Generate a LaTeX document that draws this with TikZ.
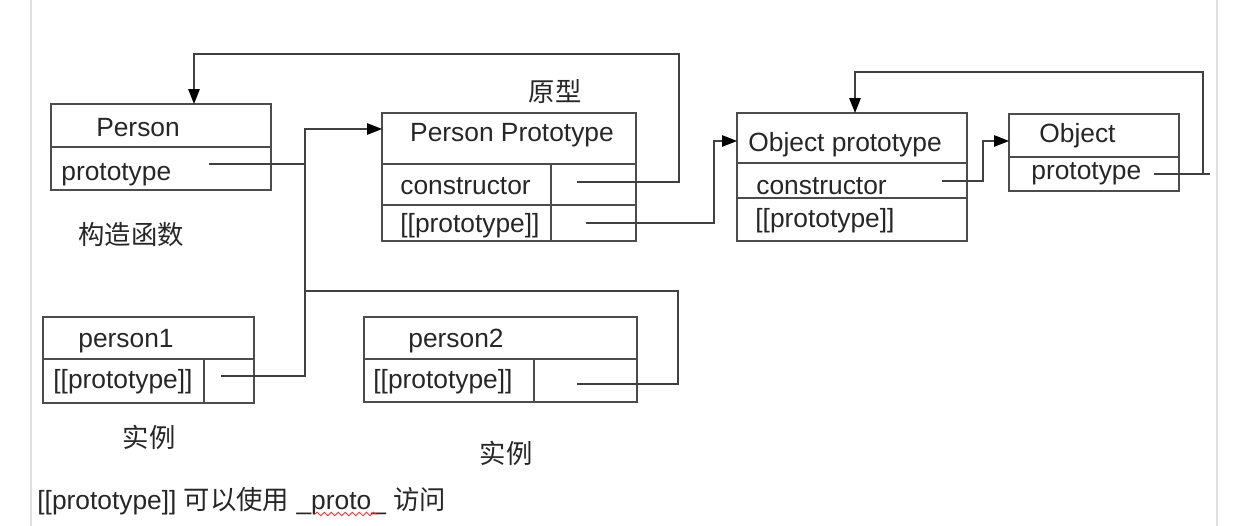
\documentclass[tikz,border=0pt]{standalone}
\usepackage{fontspec}
\setmainfont{Liberation Sans}
\newfontfamily\cjk{Noto Sans CJK SC}
\usepackage{tikz}
\usetikzlibrary{arrows.meta, decorations.pathmorphing}
\tikzset{%
	class box/.style={
		rectangle,
		draw=black!70,
		line width=1pt,
		inner sep=0pt,
		outer sep=0pt,
		anchor=north west
	},
	row line/.style={
		draw=black!70,
		line width=1pt
	},
	title/.style={
		inner sep=0pt,
		text=black!85
	},
	field/.style={
		title,
		anchor=west
	},
	wire/.style={
		draw=black!75,
		line width=0.8pt
	},
	link/.style={
		wire,
		-{Triangle[length=8.5pt,width=6.5pt,color=black]}
	},
}

\begin{document}
\begin{tikzpicture}[x=0.02cm, y=-0.02cm, font=\fontsize{15}{18}\selectfont]
			\useasboundingbox (0,0) rectangle (1233,526);
			% Draw the page edges
			\draw[black!12, line width=1.2pt] (31,0) -- (31,526);
			\draw[black!12, line width=1.2pt] (1217,0) -- (1217,526);
			
			% Draw the Person box
			\node[class box, minimum width=4.4cm, minimum height=1.72cm] (person) at (51,104) {};
			\draw[row line] (person.west |- 0,147) -- (person.east |- 0,147);
			\node[title] (personName) at (138,128) {Person};
			\node[field] (personProto) at (61,175) {prototype};
			\coordinate (personProtoEnd) at (209,164);
			\node[title] (ctorLabel) at (131,235) {\cjk 构造函数};
			
			% Draw the Person Prototype box
			\node[class box, minimum width=5.08cm, minimum height=2.56cm] (pp) at (382,113) {};
			\draw[row line] (pp.west |- 0,164) -- (pp.east |- 0,164);
			\draw[row line] (pp.west |- 0,205) -- (pp.east |- 0,205);
			\draw[row line] (551,164) -- (pp.south -| 551,0);
			\node[title] (ppName) at (512,135) {Person Prototype};
			\node[field] (ppCtor) at (400,186) {constructor};
			\node[field] (ppProto) at (400,226) {[[prototype]]};
			\coordinate (ppCtorEnd) at (577,182);
			\coordinate (ppProtoEnd) at (586,223);
			\node[title] (ppLabel) at (555,92) {\cjk 原型};
			
			% Draw the Object prototype box
			\node[class box, minimum width=4.6cm, minimum height=2.56cm] (op) at (737,113) {};
			\draw[row line] (op.west |- 0,163) -- (op.east |- 0,163);
			\draw[row line] (op.west |- 0,198) -- (op.east |- 0,198);
			\node[field] (opName) at (748,145) {Object prototype};
			\node[field] (opCtor) at (756,186) {constructor};
			\node[field] (opProto) at (755,221) {[[prototype]]};
			\coordinate (opCtorEnd) at (942,181);
			
			% Draw the Object box
			\node[class box, minimum width=3.4cm, minimum height=1.54cm] (obj) at (1009,114) {};
			\draw[row line] (obj.west |- 0,157) -- (obj.east |- 0,157);
			\node[field] (objName) at (1039,136) {Object};
			\node[field] (objProto) at (1031,174) {prototype};
			\coordinate (objProtoEnd) at (1154,174);
			\coordinate (objTurn) at (1203,174);
			
			% Draw the instances
			\node[class box, minimum width=4.22cm, minimum height=1.72cm] (p1) at (43,317) {};
			\draw[row line] (p1.west |- 0,359) -- (p1.east |- 0,359);
			\draw[row line] (204,359) -- (p1.south -| 204,0);
			\node[title] (p1Name) at (126,341) {person1};
			\node[field] (p1Proto) at (53,382) {[[prototype]]};
			\coordinate (p1End) at (221,376);
			\node[title] (p1Label) at (149,437) {\cjk 实例};
			
			\node[class box, minimum width=5.46cm, minimum height=1.7cm] (p2) at (364,317) {};
			\draw[row line] (p2.west |- 0,359) -- (p2.east |- 0,359);
			\draw[row line] (534,359) -- (p2.south -| 534,0);
			\node[title] (p2Name) at (456,341) {person2};
			\node[field] (p2Proto) at (373,382) {[[prototype]]};
			\coordinate (p2End) at (577,384);
			\node[title] (p2Label) at (506,453) {\cjk 实例};
			
			% Draw the links
			\coordinate (joint) at (305,291);
			\draw[link] (ppCtorEnd) -| (679,54) -| (person.north -| 194,0);
			\draw[wire] (personProtoEnd) -- (joint |- personProtoEnd);
			\draw[link] (p1End) -| (joint) |- (pp.west |- 0,129);
			\draw[wire] (p2End) -| (678,291) -- (joint);
			\draw[link] (ppProtoEnd) -| (714,141) -- (op.west |- 0,141);
			\draw[link] (opCtorEnd) -| (983,141) -- (obj.west |- 0,141);
			\draw[link] (objProtoEnd) -- (objTurn) |- (855,72) -- (op.north -| 855,0);
			\draw[wire] (objTurn) -- ++(7,0);
			
			% Draw the note
			\node[field] (note) at (37,501) {[[prototype]] {\cjk 可以使用} \_proto\_ {\cjk 访问}};
			\draw[red!80, line width=0.5pt, decorate, decoration={snake, amplitude=1pt, segment length=4pt}] (315,514) -- (377,514);
			
		\end{tikzpicture}
\end{document}
